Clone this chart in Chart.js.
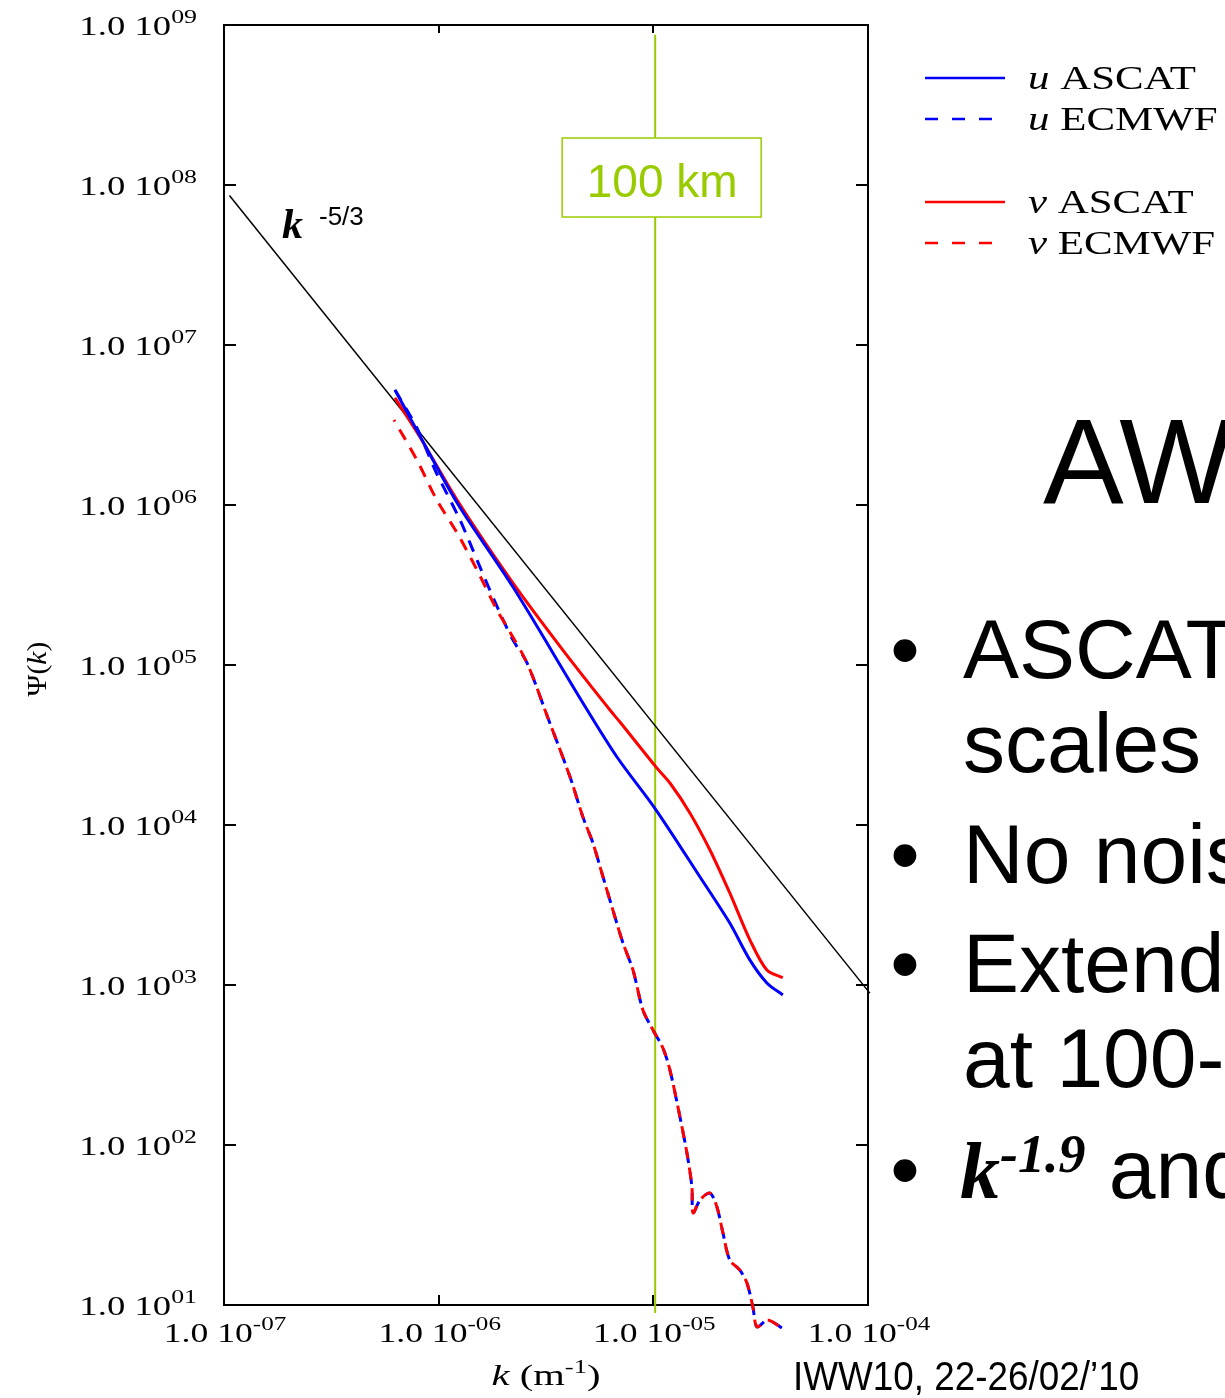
<!DOCTYPE html>
<html>
<head>
<meta charset="utf-8">
<script src="https://cdn.jsdelivr.net/npm/chart.js@4.4.1/dist/chart.umd.min.js"></script>
<style>
  html, body { margin: 0; padding: 0; background: #fff; }
  canvas { display: block; }
</style>
</head>
<body>
<canvas id="spectrumChart" width="1225" height="1398"></canvas>
<script>
// wavenumber k (1/m) and spectrum Psi(k)
const kUAscat = [6.26e-7, 7.59e-7, 1.22e-6, 2.22e-6, 4.70e-6, 6.77e-6, 1.03e-5, 1.65e-5, 2.27e-5, 2.82e-5, 3.38e-5, 4.01e-5];
const psiUAscat = [5.24e6, 3.25e6, 1.03e6, 3.07e5, 5.79e4, 2.66e4, 1.24e4, 4.73e3, 2.44e3, 1.43e3, 1.03e3, 866];

const kVAscat = [6.26e-7, 8.18e-7, 1.22e-6, 2.22e-6, 3.79e-6, 6.28e-6, 6.99e-6, 1.03e-5, 1.195e-5, 1.48e-5, 1.835e-5, 2.27e-5, 2.82e-5, 3.38e-5, 4.01e-5];
const psiVAscat = [4.67e6, 2.66e6, 1.07e6, 3.25e5, 1.24e5, 5.23e4, 4.4e4, 2.3e4, 1.83e4, 1.19e4, 6.98e3, 3.76e3, 1.91e3, 1.24e3, 1.11e3];

const kUEcmwf = [6.26e-7, 7.92e-7, 9.61e-7, 1.257e-6, 1.557e-6, 1.93e-6, 2.22e-6, 2.58e-6, 3.19e-6, 4.09e-6, 4.7e-6, 5.23e-6, 5.83e-6, 6.48e-6, 7.22e-6, 8.04e-6, 8.94e-6, 9.96e-6, 1.108e-5, 1.195e-5, 1.33e-5, 1.434e-5, 1.513e-5, 1.53e-5, 1.65e-5, 1.835e-5, 1.978e-5, 2.11e-5, 2.27e-5, 2.53e-5, 2.73e-5, 2.91e-5, 3.04e-5, 3.38e-5, 3.6e-5, 3.97e-5];
const psiUEcmwf = [5.24e6, 3.03e6, 1.66e6, 8.06e5, 4.1e5, 2.11e5, 1.43e5, 1.03e5, 4.87e4, 2.0e4, 1.12e4, 7.72e3, 4.73e3, 2.94e3, 1.83e3, 1.24e3, 698, 523, 404, 294, 150, 89, 54.6, 37.6, 45.3, 50.1, 41, 28.2, 19.1, 16.5, 13.7, 9.7, 7.3, 8.05, 7.83, 7.18];

const kVEcmwf = [6.19e-7, 7.92e-7, 9.82e-7, 1.22e-6, 1.508e-6, 1.868e-6, 2.08e-6, 2.58e-6, 3.19e-6, 4.09e-6, 4.7e-6, 5.23e-6, 5.83e-6, 6.48e-6, 7.22e-6, 8.04e-6, 8.94e-6, 9.96e-6, 1.108e-5, 1.195e-5, 1.33e-5, 1.434e-5, 1.513e-5, 1.53e-5, 1.65e-5, 1.835e-5, 1.978e-5, 2.11e-5, 2.27e-5, 2.53e-5, 2.73e-5, 2.91e-5, 3.04e-5, 3.38e-5, 3.6e-5, 3.97e-5];
const psiVEcmwf = [3.4e6, 1.91e6, 1.07e6, 6.68e5, 3.93e5, 2.21e5, 1.73e5, 1.03e5, 4.87e4, 2.0e4, 1.12e4, 7.72e3, 4.73e3, 2.94e3, 1.83e3, 1.24e3, 698, 523, 404, 294, 150, 89, 54.6, 37.6, 45.3, 50.1, 41, 28.2, 19.1, 16.5, 13.7, 9.7, 7.3, 8.05, 7.83, 7.18];

// k^-5/3 reference line end points
const kSlope = [1.06e-7, 1.02e-4];
const psiSlope = [8.6e7, 8.9e2];

// 100 km marker
const k100km = 1.02e-5;
const psiMarker = [8.7e8, 8.9];

const xExponents = [-7, -6, -5, -4];
const yExponents = [1, 2, 3, 4, 5, 6, 7, 8, 9];

const legendOrder = [0, 3, 1, 2];
const legendRowsY = [78, 119, 202, 243];

const SERIF = '"Liberation Serif", "DejaVu Serif", serif';
const SANS = '"Liberation Sans", Arial, sans-serif';
const GREEN = '#99cc00';

function pts(ks, ps) {
    return ks.map((k, i) => ({ x: k, y: ps[i] }));
}

// draw a run of text pieces with different fonts / vertical offsets,
// sx stretches the run horizontally (the original serif labels are wide)
function drawRuns(ctx, runs, x, y, align, sx) {
    sx = sx || 1;
    let total = 0;
    runs.forEach(r => { ctx.font = r.font; total += ctx.measureText(r.text).width; });
    let cx = x;
    if (align === 'center') cx = x - total * sx / 2;
    if (align === 'right') cx = x - total * sx;
    ctx.save();
    ctx.translate(cx, y);
    ctx.scale(sx, 1);
    ctx.textAlign = 'left';
    ctx.textBaseline = 'alphabetic';
    let off = 0;
    runs.forEach(r => {
        ctx.font = r.font;
        ctx.fillText(r.text, off, r.dy || 0);
        off += ctx.measureText(r.text).width;
    });
    ctx.restore();
}

const decorations = {
    id: 'decorations',
    beforeDatasetsDraw(chart) {
        const { ctx, chartArea: a, scales: { x, y } } = chart;
        ctx.save();
        ctx.strokeStyle = '#000';
        ctx.lineWidth = 2;
        ctx.strokeRect(a.left, a.top, a.right - a.left, a.bottom - a.top);
        ctx.beginPath();
        yExponents.forEach(e => {
            const py = Math.round(y.getPixelForValue(Math.pow(10, e)));
            ctx.moveTo(a.left, py); ctx.lineTo(a.left + 12, py);
            ctx.moveTo(a.right, py); ctx.lineTo(a.right - 12, py);
        });
        xExponents.forEach(e => {
            const px = Math.round(x.getPixelForValue(Math.pow(10, e)));
            ctx.moveTo(px, a.top); ctx.lineTo(px, a.top + 8);
            ctx.moveTo(px, a.bottom); ctx.lineTo(px, a.bottom - 10);
        });
        ctx.stroke();

        // tick labels
        ctx.fillStyle = '#000';
        yExponents.forEach(e => {
            const py = y.getPixelForValue(Math.pow(10, e));
            drawRuns(ctx, [
                { text: '1.0 10', font: '27px ' + SERIF },
                { text: '0' + e, font: '19px ' + SERIF, dy: -12 }
            ], 197, py + 10, 'right', 1.36);
        });
        xExponents.forEach(e => {
            const px = x.getPixelForValue(Math.pow(10, e));
            drawRuns(ctx, [
                { text: '1.0 10', font: '27px ' + SERIF },
                { text: '-0' + (-e), font: '19px ' + SERIF, dy: -12 }
            ], px + 1, a.bottom + 37, 'center', 1.32);
        });

        // axis titles
        drawRuns(ctx, [
            { text: 'k', font: 'italic 29px ' + SERIF },
            { text: ' (m', font: '29px ' + SERIF },
            { text: '-1', font: '19px ' + SERIF, dy: -12 },
            { text: ')', font: '29px ' + SERIF }
        ], 546, 1385, 'center', 1.4);
        ctx.save();
        ctx.translate(46, 669);
        ctx.rotate(-Math.PI / 2);
        drawRuns(ctx, [
            { text: 'Ψ(', font: '27px ' + SERIF },
            { text: 'k', font: 'italic 27px ' + SERIF },
            { text: ')', font: '27px ' + SERIF }
        ], 0, 0, 'center', 1.1);
        ctx.restore();
        ctx.restore();
    },
    afterDraw(chart) {
        const { ctx, scales: { x } } = chart;
        ctx.save();

        // 100 km label box
        const gx = x.getPixelForValue(k100km);
        ctx.fillStyle = '#fff';
        ctx.fillRect(gx - 93, 138, 199, 79);
        ctx.strokeStyle = GREEN;
        ctx.lineWidth = 1.5;
        ctx.strokeRect(gx - 93, 138, 199, 79);
        ctx.fillStyle = GREEN;
        ctx.font = '46px ' + SANS;
        ctx.textAlign = 'center';
        ctx.fillText('100 km', gx + 7, 197);

        // k^-5/3 annotation
        ctx.fillStyle = '#000';
        ctx.textAlign = 'left';
        ctx.font = 'bold italic 42px ' + SERIF;
        ctx.fillText('k', 282, 238);
        ctx.font = '26px ' + SANS;
        ctx.fillText('-5/3', 319, 225);

        // legend
        legendOrder.forEach((di, row) => {
            const ds = chart.data.datasets[di];
            const ly = legendRowsY[row];
            ctx.strokeStyle = ds.borderColor;
            ctx.lineWidth = 2.5;
            ctx.setLineDash(ds.borderDash ? [13, 14] : []);
            ctx.beginPath();
            ctx.moveTo(925, ly);
            ctx.lineTo(ds.borderDash ? 993 : 1005, ly);
            ctx.stroke();
            ctx.setLineDash([]);
            const [v, name] = ds.label.split(' ');
            ctx.fillStyle = '#000';
            drawRuns(ctx, [
                { text: v, font: 'italic 33px ' + SERIF },
                { text: ' ' + name, font: '33px ' + SERIF }
            ], 1028, ly + 11, 'left', 1.3);
        });

        // slide text next to the plot
        ctx.fillStyle = '#000';
        ctx.textAlign = 'left';
        ctx.font = '121px ' + SANS;
        ctx.fillText('AW', 1043, 503);
        ctx.font = '84px ' + SANS;
        [[678, 'ASCAT'], [883, 'No noise'], [992, 'Extended'], [1198, null]].forEach(([by, t]) => {
            ctx.textAlign = 'center';
            ctx.fillText('•', 905, by);
            ctx.textAlign = 'left';
            if (t) ctx.fillText(t, 963, by);
        });
        ctx.fillText('scales', 963, 772);
        ctx.fillText('at 100-', 963, 1087);
        drawRuns(ctx, [
            { text: 'k', font: 'bold italic 80px ' + SERIF },
            { text: '-1.9', font: 'bold italic 54px ' + SERIF, dy: -26 },
            { text: ' and', font: '84px ' + SANS }
        ], 960, 1198, 'left');

        // footer
        ctx.save();
        ctx.translate(793, 1390);
        ctx.scale(0.97, 1.05);
        ctx.font = '38px ' + SANS;
        ctx.textAlign = 'left';
        ctx.fillText("IWW10, 22-26/02/’10", 0, 0);
        ctx.restore();

        ctx.restore();
    }
};

const ctx = document.getElementById('spectrumChart').getContext('2d');
new Chart(ctx, {
    type: 'scatter',
    data: {
        datasets: [{
            label: 'u ASCAT',
            data: pts(kUAscat, psiUAscat),
            borderColor: '#0000ff',
            borderWidth: 3
        }, {
            label: 'v ASCAT',
            data: pts(kVAscat, psiVAscat),
            borderColor: '#ff0000',
            borderWidth: 3
        }, {
            label: 'v ECMWF',
            data: pts(kVEcmwf, psiVEcmwf),
            borderColor: '#ff0000',
            borderWidth: 3,
            borderDash: [12, 9],
            borderDashOffset: 10
        }, {
            label: 'u ECMWF',
            data: pts(kUEcmwf, psiUEcmwf),
            borderColor: '#0000ff',
            borderWidth: 3,
            borderDash: [12, 9]
        }, {
            label: 'k^-5/3',
            data: pts(kSlope, psiSlope),
            borderColor: '#000',
            borderWidth: 1.5,
            tension: 0
        }, {
            label: '100 km',
            data: pts([k100km, k100km], psiMarker),
            borderColor: GREEN,
            borderWidth: 2,
            tension: 0
        }]
    },
    options: {
        responsive: false,
        animation: false,
        layout: {
            padding: { left: 224, right: 357, top: 25, bottom: 93 }
        },
        datasets: {
            scatter: {
                showLine: true,
                pointRadius: 0,
                clip: false,
                tension: 0.3
            }
        },
        elements: {
            line: { capBezierPoints: false }
        },
        plugins: {
            legend: { display: false },
            tooltip: { enabled: false }
        },
        scales: {
            x: { type: 'logarithmic', min: 1e-7, max: 1e-4, display: false },
            y: { type: 'logarithmic', min: 10, max: 1e9, display: false }
        }
    },
    plugins: [decorations]
});
</script>
</body>
</html>
